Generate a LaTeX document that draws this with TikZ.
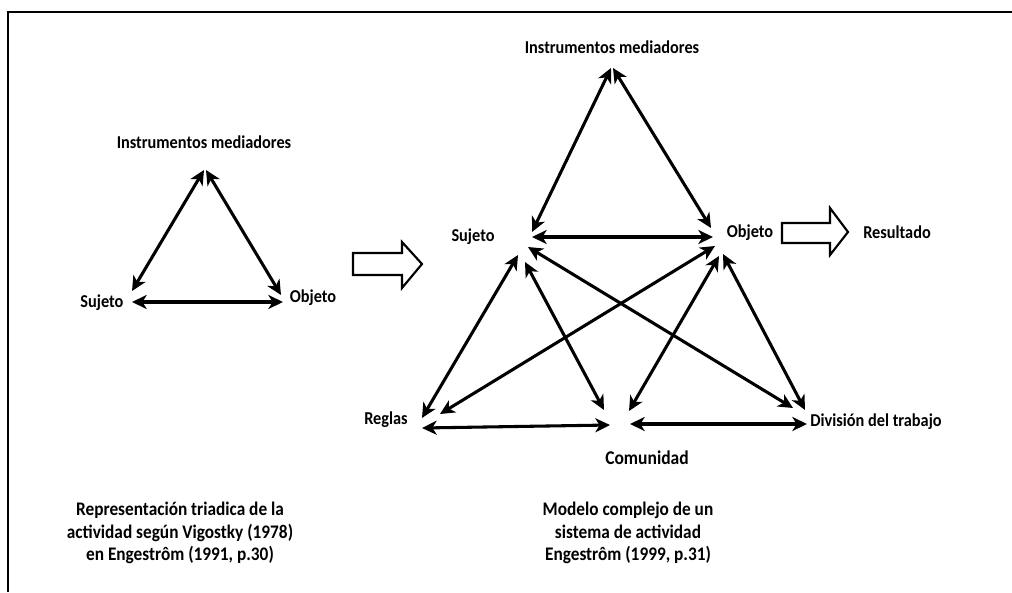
\documentclass[tikz,border=0pt]{standalone}
\usepackage{fontspec}
\setmainfont{Carlito}[FakeStretch=0.9]
\usetikzlibrary{arrows.meta}
\begin{document}
\begin{tikzpicture}[x=0.75pt,y=-0.75pt,
  conn/.style={line width=2.3pt, {Stealth[length=11pt,width=10.5pt,inset=3.2pt]}-{Stealth[length=11pt,width=10.5pt,inset=3.2pt]}},
  lab/.style={font=\fontsize{13.6}{15}\selectfont\bfseries, inner sep=0pt},
  captext/.style={font=\fontsize{14.4}{17}\selectfont\bfseries, align=center, inner sep=0pt},
  bigarrow/.style={draw, line width=1.6pt, fill=white, line join=miter}]
\useasboundingbox (0,0) rectangle (1012,592);
\draw[line width=1.6pt] (1012,12) -- (8,12) -- (8,592);

% ---------- left triangle ----------
\node[lab] (lInst) at (204,142) {Instrumentos mediadores};
\node[lab] (lSuj) at (102,303) {Sujeto};
\node[lab] (lObj) at (313,298) {Objeto};
\coordinate (la1) at (204,170);
\coordinate (la2) at (206,170);
\coordinate (ll1) at (132,291);
\coordinate (lr1) at (281,295);
\coordinate (ll2) at (132,302);
\coordinate (lr2) at (283,302);
\draw[conn] (la1) -- (ll1);
\draw[conn] (la2) -- (lr1);
\draw[conn] (ll2) -- (lr2);

% ---------- transition arrow ----------
\draw[bigarrow] (353,253) -- (402,253) -- (402,242) -- (422,264) -- (402,288) -- (402,275) -- (353,275) -- cycle;

% ---------- right system ----------
\node[lab] (rInst) at (612,47) {Instrumentos mediadores};
\node[lab] (rSuj) at (473,237) {Sujeto};
\node[lab] (rObj) at (750,233) {Objeto};
\node[lab] (rRes) at (897,232) {Resultado};
\node[lab] (rReg) at (386,420) {Reglas};
\node[lab, font=\fontsize{14.6}{16}\selectfont\bfseries] (rCom) at (647,458) {Comunidad};
\node[lab] (rDiv) at (876,422) {División del trabajo};

\draw[bigarrow] (782,223) -- (830,223) -- (830,208) -- (848,232) -- (830,255) -- (830,243) -- (782,243) -- cycle;

\coordinate (ta1) at (611,68);
\coordinate (ta2) at (613,68);
\coordinate (sT) at (532,232);
\coordinate (oT) at (711,228);
\coordinate (sH) at (532,237);
\coordinate (oH) at (713,237);
\coordinate (sR) at (518,255);
\coordinate (sC) at (525,262);
\coordinate (sD) at (528,247);
\coordinate (oR) at (715,246);
\coordinate (oC) at (719,256);
\coordinate (oD) at (723,254);
\coordinate (rS) at (422,418);
\coordinate (cS) at (604,410);
\coordinate (dS) at (793,408);
\coordinate (rO) at (440,414);
\coordinate (cO) at (629,411);
\coordinate (dO) at (805,410);
\coordinate (rC) at (422,428);
\coordinate (cR) at (610,425);
\coordinate (cD) at (630,424);
\coordinate (dC) at (807,424);

\draw[conn] (ta1) -- (sT);
\draw[conn] (ta2) -- (oT);
\draw[conn] (sH) -- (oH);
\draw[conn] (sR) -- (rS);
\draw[conn] (sC) -- (cS);
\draw[conn] (sD) -- (dS);
\draw[conn] (oR) -- (rO);
\draw[conn] (oC) -- (cO);
\draw[conn] (oD) -- (dO);
\draw[conn] (rC) -- (cR);
\draw[conn] (cD) -- (dC);

% ---------- captions ----------
\node[captext] (capL) at (180,533) {Representación triadica de la\\actividad según Vigostky (1978)\\en Engestrôm (1991, p.30)};
\node[captext] (capR) at (628,533) {Modelo complejo de un\\sistema de actividad\\Engestrôm (1999, p.31)};
\end{tikzpicture}
\end{document}
